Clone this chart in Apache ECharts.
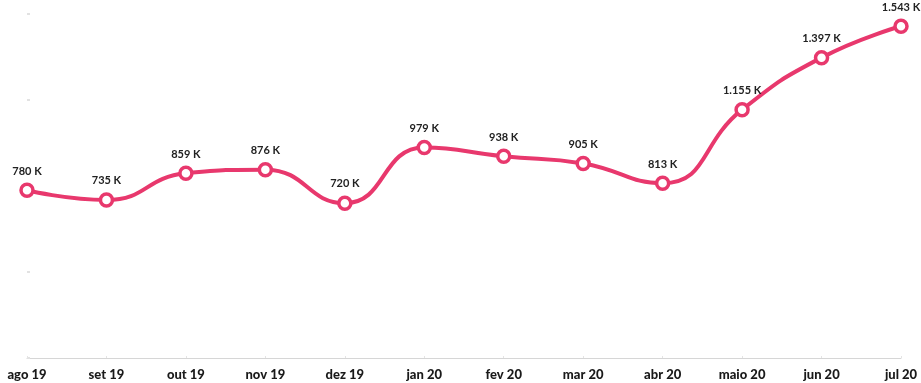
<!DOCTYPE html>
<html>
<head>
<meta charset="utf-8">
<script src="https://cdn.jsdelivr.net/npm/echarts@6/dist/echarts.min.js"></script>
<style>
  html, body { margin: 0; padding: 0; background: #fff; }
  #chart { width: 921px; height: 383px; }
</style>
</head>
<body>
<div id="chart"></div>
<script>
// Monthly totals, in thousands
const months = ['ago 19', 'set 19', 'out 19', 'nov 19', 'dez 19', 'jan 20', 'fev 20', 'mar 20', 'abr 20', 'maio 20', 'jun 20', 'jul 20'];
const totals = [780, 735, 859, 876, 720, 979, 938, 905, 813, 1155, 1397, 1543];

const lineColor = '#e8386d';
const fontFamily = 'Lato, "Open Sans", sans-serif';

// Thousands separator with a dot, then the "K" suffix
function formatK(v) {
  return String(v).replace(/\B(?=(\d{3})+(?!\d))/g, '.') + ' K';
}

const chart = echarts.init(document.getElementById('chart'));
chart.setOption({
  animation: false,
  grid: { left: 27, right: 20, top: 14, bottom: 25 },
  xAxis: {
    type: 'category',
    data: months,
    boundaryGap: false,
    axisLine: { show: true, lineStyle: { color: '#d6d6d6', width: 1 } },
    axisTick: { show: true, length: 2, inside: true, lineStyle: { color: '#e4e4e4' } },
    axisLabel: {
      color: '#1a1a1a',
      fontFamily: fontFamily,
      fontWeight: 900,
      fontSize: 13,
      margin: 10,
      interval: 0
    }
  },
  yAxis: {
    type: 'value',
    min: 0,
    max: 1600,
    interval: 400,
    axisLine: { show: false },
    axisTick: { show: true, length: 3, inside: true, lineStyle: { color: '#e2e2e2', width: 2 } },
    axisLabel: { show: false },
    splitLine: { show: false }
  },
  series: [{
    type: 'line',
    data: totals,
    smooth: 0.5,
    symbol: 'circle',
    symbolSize: 12,
    lineStyle: { color: lineColor, width: 4 },
    itemStyle: { color: '#fff', borderColor: lineColor, borderWidth: 3.5 },
    label: {
      show: true,
      position: 'top',
      distance: 6,
      formatter: p => formatK(p.value),
      color: '#222',
      fontFamily: fontFamily,
      fontWeight: 'bold',
      fontSize: 11
    }
  }]
});
</script>
</body>
</html>
